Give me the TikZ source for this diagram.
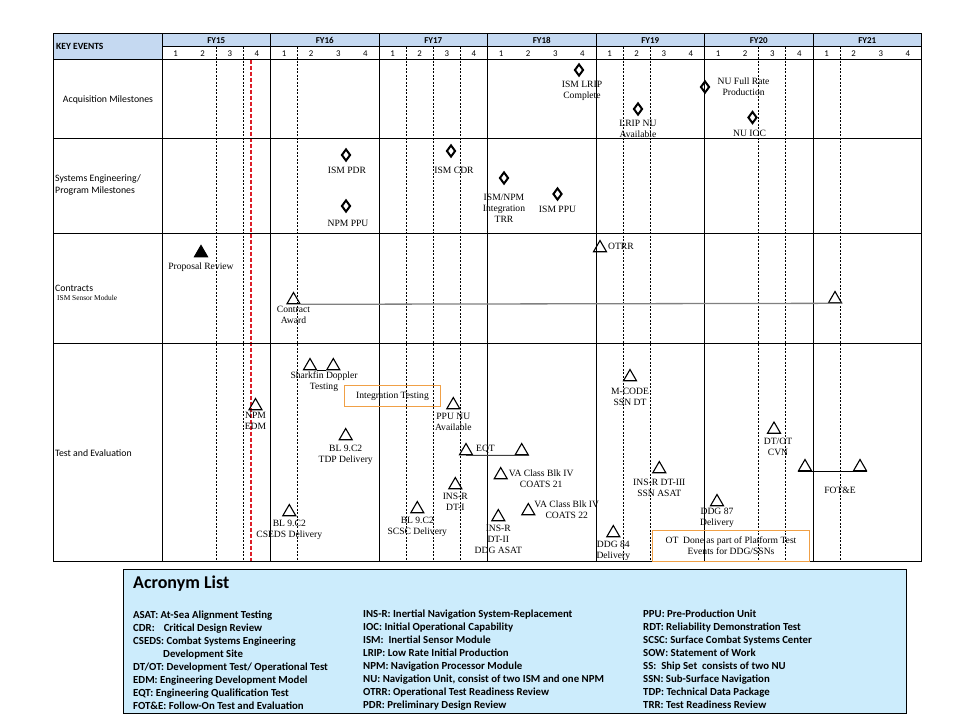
\documentclass[tikz,border=0pt]{standalone}
\usepackage{fontspec}
\setmainfont{Liberation Serif}
\newfontfamily\calfont{Carlito}
\usepackage{tikz}
\usetikzlibrary{shapes.geometric, positioning}
\definecolor{hdrblue}{RGB}{197,217,241}
\definecolor{acrblue}{RGB}{204,236,252}
\definecolor{boxorange}{RGB}{240,160,70}
\definecolor{nowred}{RGB}{220,30,40}

\begin{document}
\begin{tikzpicture}[x=1pt, y=-1pt,
    mile/.style={diamond, draw, line width=2pt, minimum width=9pt, minimum height=12pt, inner sep=0pt},
    evt/.style={regular polygon, regular polygon sides=3, draw, line width=1.1pt, minimum size=15pt, inner sep=0pt},
    evtfill/.style={evt, fill=black},
    lbl/.style={font=\fontsize{9.6}{11}\selectfont, align=center, inner sep=1pt},
    rowlbl/.style={font=\calfont\fontsize{9.8}{12}\selectfont, align=left, anchor=west, inner sep=0pt},
    hdr/.style={font=\calfont\bfseries\fontsize{9}{10}\selectfont, inner sep=0pt},
    qnum/.style={font=\calfont\fontsize{8.8}{10}\selectfont, inner sep=0pt, anchor=base},
    qline/.style={dash pattern=on 2pt off 1.5pt, line width=0.8pt},
    note/.style={draw=boxorange, line width=0.9pt, font=\fontsize{9.6}{11}\selectfont, align=center, inner sep=0pt},
    acr/.style={font=\calfont\bfseries\fontsize{10.8}{12.9}\selectfont, align=left, anchor=north west, inner sep=0pt},
    bar/.style={line width=0.9pt}]
  \useasboundingbox (0,0) rectangle (960,720);
  % table
  \fill[hdrblue] (53,33) rectangle (921.5,46.5);
  \fill[hdrblue] (53,46.5) rectangle (162,59.5);
  \foreach \i/\q in {0/2,0/3,1/1,2/1,2/2,2/3,4/1,4/2,5/2,5/3,6/1}
    \draw[qline] (162+108.5*\i+27.125*\q,46.5) -- (162+108.5*\i+27.125*\q,561.5);
  \draw[nowred, line width=1.3pt, dash pattern=on 4pt off 2pt] (251,59.5) -- (251,561.5);
  \draw[bar] (53,33) rectangle (921.5,561.5);
  \draw[bar] (162,46.5) -- (921.5,46.5);
  \foreach \y in {59.5,138.5,233,343}
    \draw[bar] (53,\y) -- (921.5,\y);
  \foreach \i in {0,...,6}
    \draw[bar] (162+108.5*\i,33) -- (162+108.5*\i,561.5);
  \foreach \fy [count=\i from 0] in {15,...,21}{
    \node[hdr, anchor=base] (fy\fy) at (216.25+108.5*\i,43) {FY\fy};
    \foreach \q in {1,...,4}
      \node[qnum] (q\fy\q) at (148.44+108.5*\i+27.125*\q,56) {\q};
  }
  % row labels
  \node[hdr, font=\calfont\bfseries\fontsize{9.5}{11}\selectfont, anchor=west] (keyev) at (56,46) {KEY EVENTS};
  \node[rowlbl, anchor=center] (acq) at (108,100) {Acquisition Milestones};
  \node[rowlbl] (sys) at (55,185) {Systems Engineering/\\Program Milestones};
  \node[rowlbl] (con) at (55,288) {Contracts};
  \node[anchor=west, inner sep=0pt, font=\fontsize{7.4}{9}\selectfont] (conism) at (57,298) {ISM Sensor Module};
  \node[rowlbl] (tne) at (55,453) {Test and Evaluation};

  % acquisition milestones
  \node[mile] (lripc) at (579,70) {};
  \node[lbl, below=3pt of lripc, xshift=3pt] (lripcl) {ISM LRIP\\Complete};
  \node[mile] (nufrp) at (705,87) {};
  \node[lbl, right=6pt of nufrp] (nufrpl) {NU Full Rate\\Production};
  \node[mile] (lripnu) at (638,109) {};
  \node[lbl, below=3pt of lripnu] (lripnul) {LRIP NU\\Available};
  \node[mile] (nuioc) at (752.5,117.5) {};
  \node[lbl, below=4pt of nuioc, xshift=-3pt] (nuiocl) {NU IOC};

  % systems engineering / program milestones
  \node[mile] (ismpdr) at (346,155) {};
  \node[lbl, below=4pt of ismpdr, xshift=1pt] (ismpdrl) {ISM PDR};
  \node[mile] (npmppu) at (346,206) {};
  \node[lbl, below=6pt of npmppu, xshift=2pt] (npmppul) {NPM PPU};
  \node[mile] (ismcdr) at (451,151) {};
  \node[lbl, below=8pt of ismcdr, xshift=3pt] (ismcdrl) {ISM CDR};
  \node[mile] (ismtrr) at (504,178) {};
  \node[lbl, below=8pt of ismtrr] (ismtrrl) {ISM/NPM\\Integration\\TRR};
  \node[mile] (ismppu) at (557.5,194) {};
  \node[lbl, below=4pt of ismppu] (ismppul) {ISM PPU};

  % contracts
  \node[evtfill] (proprev) at (201,253) {};
  \node[lbl, below=4pt of proprev] (proprevl) {Proposal Review};
  \node[evt] (cawd) at (293.5,300) {};
  \node[lbl, below=1pt of cawd] (cawdl) {Contract\\Award};
  \node[evt] (otrr) at (600,248) {};
  \node[lbl, right=2pt of otrr, yshift=2pt] (otrrl) {OTRR};
  \node[evt] (cend) at (835,299) {};
  \draw[gray, line width=1.3pt] (cawd.corner 3) -- (cend.corner 3);

  % test and evaluation
  \node[evt] (shk1) at (310,366) {};
  \node[evt] (shk2) at (333.3,366) {};
  \draw[line width=0.9pt] (shk1.corner 3) -- (shk2.corner 2);
  \node[lbl, anchor=north] (shkl) at (324,371) {Sharkfin Doppler\\Testing};
  \node[note, minimum width=96pt, minimum height=21pt] (inttest) at (392.5,396) {Integration Testing};
  \node[evt] (npmedm) at (255.5,406) {};
  \node[lbl, below=1pt of npmedm] (npmedml) {NPM\\EDM};
  \node[evt] (tdp) at (345.7,436) {};
  \node[lbl, below=4pt of tdp] (tdpl) {BL 9.C2\\TDP Delivery};
  \node[evt] (ppunu) at (453.3,405) {};
  \node[lbl, below=3pt of ppunu] (ppunul) {PPU NU\\Available};
  \node[evt] (eqt1) at (466,451) {};
  \node[evt] (eqt2) at (521.7,451) {};
  \draw[darkgray, line width=0.9pt] (eqt1.south) -- (eqt2.corner 3);
  \node[lbl, right=4pt of eqt1, yshift=2pt] (eqtl) {EQT};
  \node[evt] (insdt1) at (455.3,485) {};
  \node[lbl, below=2.5pt of insdt1] (insdt1l) {INS-R\\DT-I};
  \node[evt] (cseds) at (289.3,512) {};
  \node[lbl, below=3pt of cseds] (csedsl) {BL 9.C2\\CSEDS Delivery};
  \node[evt] (scsc) at (417.3,509) {};
  \node[lbl, below=3pt of scsc] (scscl) {BL 9.C2\\SCSC Delivery};
  \node[evt] (insdt2) at (498.3,517) {};
  \node[lbl, below=3pt of insdt2] (insdt2l) {INS-R\\DT-II\\DDG ASAT};
  \node[evt] (va21) at (500.7,475) {};
  \node[lbl, right=2pt of va21, yshift=-4pt] (va21l) {VA Class Blk IV\\COATS 21};
  \node[evt] (va22) at (528.3,511) {};
  \node[lbl, right=0pt of va22, yshift=1pt] (va22l) {VA Class Blk IV\\COATS 22};
  \node[evt] (mcode) at (630,377) {};
  \node[lbl, below=6pt of mcode] (mcodel) {M-CODE\\SSN DT};
  \node[evt] (dtot) at (774,429.5) {};
  \node[lbl, below=3pt of dtot, xshift=4pt] (dtotl) {DT/OT\\CVN};
  \node[evt] (insdt3) at (659.3,469) {};
  \node[lbl, below=5pt of insdt3] (insdt3l) {INS-R DT-III\\SSN ASAT};
  \node[evt] (ddg87) at (717,502) {};
  \node[lbl, below=1pt of ddg87] (ddg87l) {DDG 87\\Delivery};
  \node[evt] (ddg84) at (613.3,533) {};
  \node[lbl, below=2.5pt of ddg84] (ddg84l) {DDG 84\\Delivery};
  \node[note, minimum width=157pt, minimum height=31pt] (otbox) at (731,546) {OT\ \ Done as part of Platform Test\\Events for DDG/SSNs};
  \node[evt] (fot1) at (805,467) {};
  \node[evt] (fot2) at (860,467) {};
  \draw[line width=0.9pt] (fot1.corner 2) -- (fot2.corner 3);
  \node[lbl] (fotl) at (840,490) {FOT\&E};

  % acronym list
  \node[draw, line width=1pt, fill=acrblue, minimum width=783pt, minimum height=144pt, anchor=north west, inner sep=0pt] (acrbox) at (123,569) {};
  \node[font=\calfont\bfseries\fontsize{18}{20}\selectfont, anchor=west, inner sep=0pt] (acrtitle) at (133,584) {Acronym List};
  \node[acr] (acr1) at (133,611) {ASAT: At-Sea Alignment Testing\\CDR:\hspace{9pt}Critical Design Review\\CSEDS: Combat Systems Engineering\\\hspace*{30pt}Development Site\\DT/OT: Development Test/ Operational Test\\EDM: Engineering Development Model\\EQT: Engineering Qualification Test\\FOT\&E: Follow-On Test and Evaluation};
  \node[acr] (acr2) at (363,610) {INS-R: Inertial Navigation System-Replacement\\IOC: Initial Operational Capability\\ISM:\ \ Inertial Sensor Module\\LRIP: Low Rate Initial Production\\NPM: Navigation Processor Module\\NU: Navigation Unit, consist of two ISM and one NPM\\OTRR: Operational Test Readiness Review\\PDR: Preliminary Design Review};
  \node[acr] (acr3) at (643,610) {PPU: Pre-Production Unit\\RDT: Reliability Demonstration Test\\SCSC: Surface Combat Systems Center\\SOW: Statement of Work\\SS:\ \ Ship Set\ \ consists of two NU\\SSN: Sub-Surface Navigation\\TDP: Technical Data Package\\TRR: Test Readiness Review};
\end{tikzpicture}
\end{document}
